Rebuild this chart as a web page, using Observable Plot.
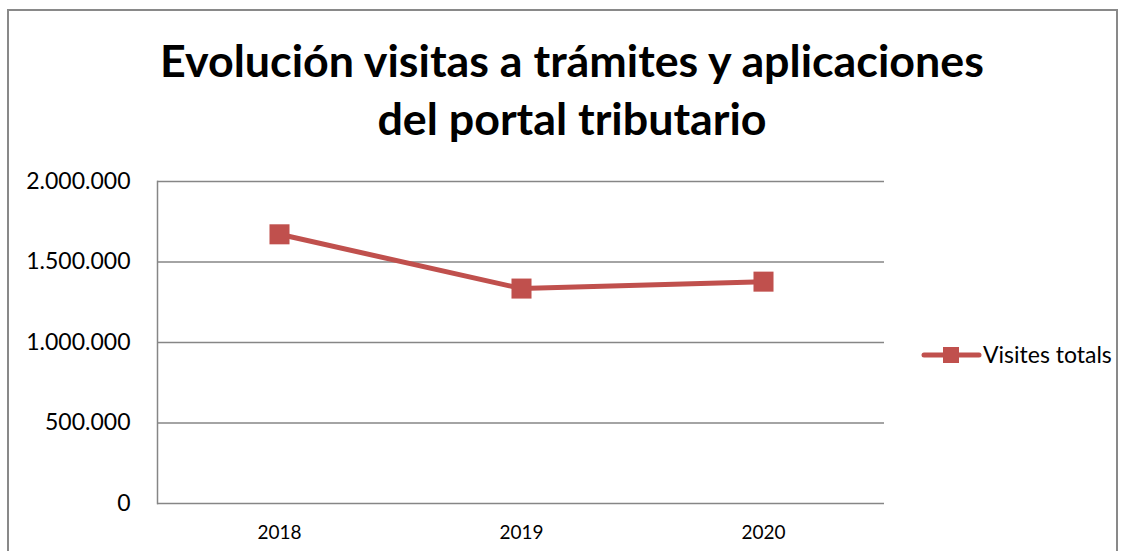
<!DOCTYPE html>
<html><head><meta charset="utf-8">
<script src="https://cdn.jsdelivr.net/npm/d3@7"></script>
<script src="https://cdn.jsdelivr.net/npm/@observablehq/plot@0.6"></script>
<style>
html,body{margin:0;padding:0;background:#fff;}
#wrap{position:relative;width:1126px;height:551px;overflow:hidden;font-family:Lato,"Open Sans",sans-serif;}
#border{position:absolute;left:7px;top:9px;width:1107px;height:600px;border:2px solid #898989;pointer-events:none;}
#title{display:block;}
#chart svg{display:block;}
#legend{position:absolute;left:920px;top:340px;}
</style></head><body>
<div id="wrap">
<div id="border"></div>
<svg id="title" width="1126" height="150"></svg>
<div id="chart"></div>
<svg id="legend" width="206" height="30"></svg>
</div>
<script>
const titleLines = ["Evolución visitas a trámites y aplicaciones", "del portal tributario"];
const years = ["2018", "2019", "2020"];
const visits = [1672000, 1335000, 1378000];
const seriesName = "Visites totals";
const yTicks = [0, 500000, 1000000, 1500000, 2000000];
const lineColor = "#C0504D";
const gridColor = "#868686";

const data = years.map((y, i) => ({year: y, value: visits[i]}));
const locale = d3.formatLocale({decimal: ",", thousands: ".", grouping: [3], currency: ["", "€"]});
const fmt = locale.format(",d");

// Title
const ts = d3.select("#title");
const baselines = [77, 135];
titleLines.forEach((t, i) => {
  ts.append("text").attr("x", 572).attr("y", baselines[i]).attr("text-anchor", "middle")
    .attr("font-family", "Lato, 'Open Sans', sans-serif").attr("font-weight", "bold")
    .attr("font-size", 48).attr("fill", "#000").text(t);
});
const first = ts.select("text").node();
const w = first.getComputedTextLength();
const fs = 48 * 824 / w;
ts.selectAll("text").attr("font-size", fs);

const chart = Plot.plot({
  width: 1126, height: 401,
  marginTop: 31, marginBottom: 48, marginLeft: 157, marginRight: 242,
  style: {fontFamily: "Lato, 'Open Sans', sans-serif", color: "#000", background: "transparent"},
  x: {type: "point", domain: years, padding: 0.5, label: null},
  y: {domain: [0, 2000000], label: null},
  marks: [
    Plot.ruleY(yTicks, {stroke: gridColor, strokeWidth: 1.5}),
    Plot.frame({anchor: "left", stroke: gridColor, strokeWidth: 1.5}),
    Plot.axisX({tickSize: 0, tickPadding: 22, fontSize: 19, label: null}),
    Plot.axisY({ticks: yTicks, tickFormat: fmt, tickSize: 0, tickPadding: 27, fontSize: 23, label: null}),
    Plot.line(data, {x: "year", y: "value", stroke: lineColor, strokeWidth: 5}),
    Plot.dot(data, {x: "year", y: "value", symbol: "square", r: 11.3, fill: lineColor})
  ]
});
document.getElementById("chart").append(chart);

// Legend
const lg = d3.select("#legend");
lg.append("line").attr("x1", 4).attr("x2", 59).attr("y1", 15).attr("y2", 15)
  .attr("stroke", lineColor).attr("stroke-width", 5).attr("stroke-linecap", "round");
lg.append("rect").attr("x", 23).attr("y", 7).attr("width", 16).attr("height", 16).attr("fill", lineColor);
lg.append("text").attr("x", 63).attr("y", 23).attr("font-size", 23)
  .attr("font-family", "Lato, 'Open Sans', sans-serif").attr("fill", "#000").text(seriesName);
</script>
</body></html>
